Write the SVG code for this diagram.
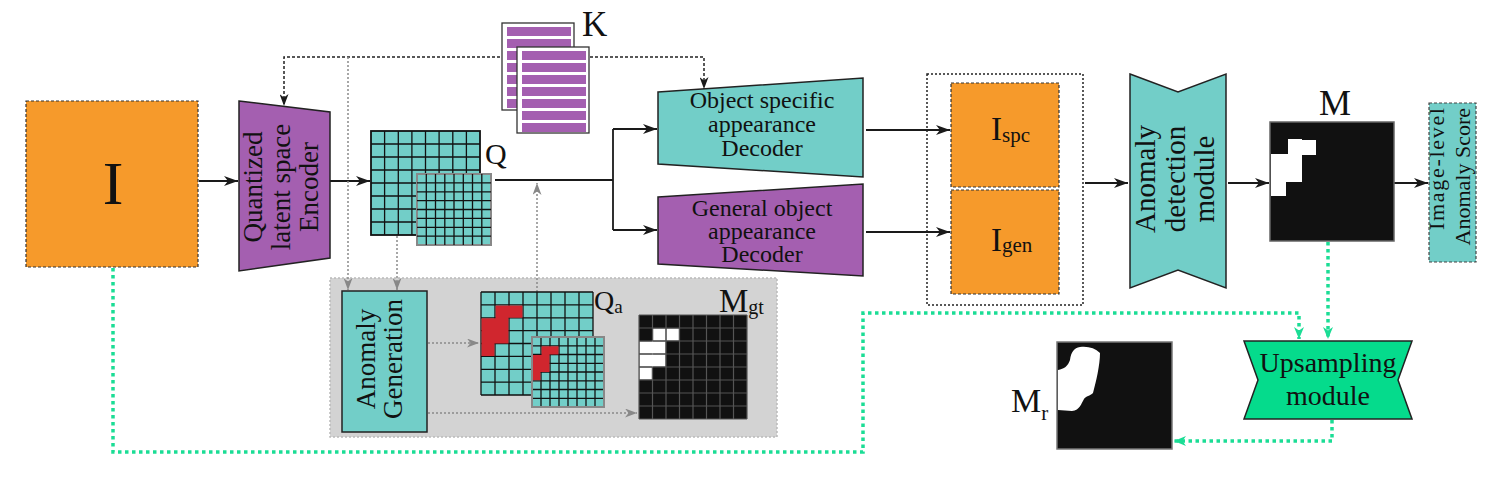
<svg xmlns="http://www.w3.org/2000/svg" width="1504" height="497" viewBox="0 0 1504 497">
<style>
.t{font-family:"Liberation Serif","DejaVu Serif",serif;fill:#111}
.teal{fill:#72CEC8;stroke:#222;stroke-width:1.5}
.purple{fill:#A45FB0;stroke:#222;stroke-width:1.5}
.orange{fill:#F69A2B;stroke:#333;stroke-width:1.2;stroke-dasharray:3 2}
.blk{stroke:#1a1a1a;stroke-width:1.8;fill:none}
.gdot{stroke:#8a8a8a;stroke-width:1.5;stroke-dasharray:2 2;fill:none}
.green{stroke:#1BDD95;stroke-width:3.5;stroke-dasharray:3.5 3.5;fill:none}
.kdash{stroke:#222;stroke-width:1.5;stroke-dasharray:3 2;fill:none}
.gl{stroke:#111;stroke-width:1.3;fill:none}
.glg{stroke:#555;stroke-width:1.2;fill:none}
.paper{fill:#fff;stroke:#333;stroke-width:1.3}
.stripe{fill:#A45FB0}
.red{fill:#D0262E}
</style>
<defs>
<marker id="ah" viewBox="0 0 14 10" refX="14" refY="5" markerWidth="14" markerHeight="10" markerUnits="userSpaceOnUse" orient="auto"><path d="M0,0 L14,5 L0,10 L4,5 Z" fill="#1a1a1a"/></marker>
<marker id="ahs" viewBox="0 0 12 9" refX="12" refY="4.5" markerWidth="12" markerHeight="9" markerUnits="userSpaceOnUse" orient="auto"><path d="M0,0 L12,4.5 L0,9 L3.5,4.5 Z" fill="#1a1a1a"/></marker>
<marker id="ahg" viewBox="0 0 12 9" refX="12" refY="4.5" markerWidth="12" markerHeight="9" markerUnits="userSpaceOnUse" orient="auto"><path d="M0,0 L12,4.5 L0,9 L3.5,4.5 Z" fill="#888"/></marker>
<marker id="ahgr" viewBox="0 0 12 10" refX="12" refY="5" markerWidth="12" markerHeight="10" markerUnits="userSpaceOnUse" orient="auto"><path d="M0,0 L12,5 L0,10 L3.5,5 Z" fill="#1BDD95"/></marker>
</defs>
<rect width="1504" height="497" fill="#fff"/>

<g id="anomaly-area">
<rect x="330" y="278" width="447" height="159" fill="#D3D3D3" stroke="#bbb" stroke-width="1.5" stroke-dasharray="2 2"/>
</g>

<g id="connectors">
<path class="blk" d="M199,181 H238" marker-end="url(#ah)"/>
<path class="blk" d="M330,181 H370" marker-end="url(#ah)"/>
<path class="blk" d="M495,180 H613 M613,129 V230"/>
<path class="blk" d="M613,129 H657" marker-end="url(#ah)"/>
<path class="blk" d="M613,230 H657" marker-end="url(#ah)"/>
<path class="blk" d="M866,130 H950" marker-end="url(#ah)"/>
<path class="blk" d="M866,232 H950" marker-end="url(#ah)"/>
<path class="blk" d="M1085,183 H1128" marker-end="url(#ah)"/>
<path class="blk" d="M1228,183 H1269" marker-end="url(#ah)"/>
<path class="blk" d="M1394,183 H1428" marker-end="url(#ah)"/>
<path class="kdash" d="M530,57 H284 V106" marker-end="url(#ahs)"/>
<path class="kdash" d="M530,57 H704 V89" marker-end="url(#ahs)"/>
<path class="gdot" d="M348,57 V290" marker-end="url(#ahg)"/>
<path class="gdot" d="M397,236 V290" marker-end="url(#ahg)"/>
<path class="gdot" d="M537,292 V183" marker-end="url(#ahg)"/>
<path class="gdot" d="M428,343 H479" marker-end="url(#ahg)"/>
<path class="gdot" d="M428,413 H637" marker-end="url(#ahg)"/>
<path class="green" d="M113,268 V452 H863 V313 H1299 V339" marker-end="url(#ahgr)"/>
<path class="green" d="M1328,242 V339" marker-end="url(#ahgr)"/>
<path class="green" d="M1332,420 V441 H1174" marker-end="url(#ahgr)"/>
</g>

<g id="input-I">
<rect class="orange" x="26" y="101" width="172" height="166"/>
<text class="t" x="113" y="204" font-size="62" text-anchor="middle">I</text>
</g>

<g id="encoder">
<polygon class="purple" points="239,101 330,112 330,258 239,271"/>
<g class="t" font-size="27" text-anchor="middle">
<text transform="translate(262,187) rotate(-90)">Quantized</text>
<text transform="translate(290,187) rotate(-90)">latent space</text>
<text transform="translate(318,187) rotate(-90)">Encoder</text>
</g>
</g>

<g id="Q">
<rect x="371" y="131" width="109" height="104" fill="#72CEC8" stroke="#111" stroke-width="1.8"/>
<path class="gl" d="M384.6,131V235M398.3,131V235M411.9,131V235M425.5,131V235M439.1,131V235M452.8,131V235M466.4,131V235M371,144H480M371,157H480M371,170H480M371,183H480M371,196H480M371,209H480M371,222H480"/>
<rect x="417" y="174" width="74" height="71" fill="#72CEC8" stroke="#888" stroke-width="2"/>
<path class="gl" d="M426.3,174V245M435.5,174V245M444.8,174V245M454,174V245M463.3,174V245M472.5,174V245M481.8,174V245M417,182.9H491M417,191.8H491M417,200.6H491M417,209.5H491M417,218.4H491M417,227.3H491M417,236.1H491"/>
<text class="t" x="485" y="164" font-size="30">Q</text>
</g>

<g id="K">
<rect class="paper" x="502" y="23" width="72" height="87"/>
<g class="stripe">
<rect x="507" y="27" width="64" height="9"/><rect x="507" y="39" width="64" height="9"/><rect x="507" y="51" width="64" height="9"/><rect x="507" y="63" width="64" height="9"/><rect x="507" y="75" width="64" height="9"/><rect x="507" y="87" width="64" height="9"/><rect x="507" y="99" width="64" height="9"/>
</g>
<rect class="paper" x="517" y="47" width="72" height="86"/>
<g class="stripe">
<rect x="522" y="51" width="64" height="9"/><rect x="522" y="63" width="64" height="9"/><rect x="522" y="75" width="64" height="9"/><rect x="522" y="87" width="64" height="9"/><rect x="522" y="99" width="64" height="9"/><rect x="522" y="111" width="64" height="9"/><rect x="522" y="123" width="64" height="9"/>
</g>
<text class="t" x="582" y="36" font-size="35">K</text>
</g>

<g id="specific-decoder">
<polygon class="teal" points="658,92 863,78 863,177 658,164"/>
<g class="t" font-size="24" text-anchor="middle">
<text x="762" y="108">Object specific</text>
<text x="762" y="132">appearance</text>
<text x="762" y="156">Decoder</text>
</g>
</g>

<g id="general-decoder">
<polygon class="purple" points="658,197 863,184 863,276 658,264"/>
<g class="t" font-size="24" text-anchor="middle">
<text x="762" y="216">General object</text>
<text x="762" y="239">appearance</text>
<text x="762" y="262">Decoder</text>
</g>
</g>

<g id="outputs">
<rect x="927" y="74" width="156" height="231" fill="none" stroke="#222" stroke-width="1.5" stroke-dasharray="2 2"/>
<g id="Ispc">
<rect class="orange" x="951" y="83" width="108" height="104"/>
<text class="t" x="991" y="140" font-size="33">I<tspan font-size="21" dy="2">spc</tspan></text>
</g>
<g id="Igen">
<rect class="orange" x="951" y="190" width="108" height="104"/>
<text class="t" x="991" y="251" font-size="33">I<tspan font-size="21" dy="1">gen</tspan></text>
</g>
</g>

<g id="anomaly-detection">
<polygon class="teal" points="1130,74 1178,92 1226,74 1226,288 1178,270 1130,288"/>
<g class="t" font-size="29" text-anchor="middle">
<text transform="translate(1155,179) rotate(-90)">Anomaly</text>
<text transform="translate(1185,179) rotate(-90)">detection</text>
<text transform="translate(1214,179) rotate(-90)">module</text>
</g>
</g>

<g id="M">
<text class="t" x="1335" y="115" font-size="36" text-anchor="middle">M</text>
<rect x="1270" y="122" width="124" height="119" fill="#111" stroke="#666" stroke-width="1.5"/>
<polygon fill="#fff" points="1288,139 1302,139 1302,140 1316,140 1316,155 1302,155 1302,182 1286,182 1286,196 1271,196 1271,154 1288,154"/>
</g>

<g id="score">
<rect x="1429" y="103" width="47" height="159" fill="#72CEC8" stroke="#444" stroke-width="1.2" stroke-dasharray="3 2"/>
<g class="t" font-size="22" text-anchor="end">
<text transform="translate(1444,108) rotate(-90)" textLength="122" lengthAdjust="spacing">Image-level</text>
<text transform="translate(1470,108) rotate(-90)">Anomaly Score</text>
</g>
</g>

<g id="anomaly-generation">
<rect x="342" y="291" width="85" height="141" fill="#72CEC8" stroke="#222" stroke-width="1.5"/>
<g class="t" font-size="27" text-anchor="middle">
<text transform="translate(375,359) rotate(-90)">Anomaly</text>
<text transform="translate(402,359) rotate(-90)">Generation</text>
</g>
</g>

<g id="Qa">
<rect x="481" y="292" width="112" height="103" fill="#72CEC8"/>
<path class="gl" d="M481,292V395M495,292V395M509,292V395M523,292V395M537,292V395M551,292V395M565,292V395M579,292V395M593,292V395M481,292H593M481,304.9H593M481,317.8H593M481,330.6H593M481,343.5H593M481,356.4H593M481,369.3H593M481,382.1H593M481,395H593"/>
<path class="red" d="M495.5,305.5H522.5V317.8H508.5V343.5H494.5V356H481.5V318.3H495.5Z"/>
<rect x="532" y="337" width="72" height="70" fill="#72CEC8"/>
<path class="gl" d="M541,337V407M550,337V407M559,337V407M568,337V407M577,337V407M586,337V407M595,337V407M532,345.8H604M532,354.5H604M532,363.3H604M532,372H604M532,380.8H604M532,389.5H604M532,398.3H604"/>
<path class="red" d="M541.5,346.3H558.5V354.5H549.5V372H540.5V380.3H532.5V355H541.5Z"/>
<rect x="532" y="337" width="72" height="70" fill="none" stroke="#888" stroke-width="2"/>
<text class="t" x="594" y="310" font-size="28">Q<tspan font-size="19" dy="3">a</tspan></text>
</g>

<g id="Mgt">
<rect x="639" y="315" width="108" height="104" fill="#111"/>
<path class="glg" d="M639,315V419M652.5,315V419M666,315V419M679.5,315V419M693,315V419M706.5,315V419M720,315V419M733.5,315V419M747,315V419M639,315H747M639,328H747M639,341H747M639,354H747M639,367H747M639,380H747M639,393H747M639,406H747M639,419H747"/>
<g fill="#fff">
<rect x="653.2" y="328.7" width="12.1" height="11.6"/>
<rect x="666.7" y="328.7" width="12.1" height="11.6"/>
<rect x="639.7" y="341.7" width="25.6" height="11.6"/>
<rect x="639.7" y="354.7" width="25.6" height="11.6"/>
<rect x="639.7" y="367.7" width="12.1" height="11.6"/>
</g>
<text class="t" x="719" y="312" font-size="33">M<tspan font-size="20" dy="2">gt</tspan></text>
</g>

<g id="upsampling">
<polygon points="1244,341 1412,341 1398,380 1412,419 1244,419 1258,380" fill="#05DB8C" stroke="#222" stroke-width="1.5"/>
<g class="t" font-size="28" text-anchor="middle">
<text x="1328" y="372">Upsampling</text>
<text x="1328" y="405">module</text>
</g>
</g>

<g id="Mr">
<rect x="1057" y="342" width="115" height="107" fill="#111" stroke="#777" stroke-width="1.5"/>
<path fill="#fff" d="M1058,370 C1064,369 1068,366 1070,360 C1071,352 1074,348 1080,347 C1088,346 1095,348 1100,353 C1100,365 1096,382 1093,393 C1090,396 1086,396 1084,399 C1081,404 1080,410 1072,411 L1058,410 Z"/>
<text class="t" x="1011" y="412" font-size="34">M<tspan font-size="21" dy="8">r</tspan></text>
</g>
</svg>
